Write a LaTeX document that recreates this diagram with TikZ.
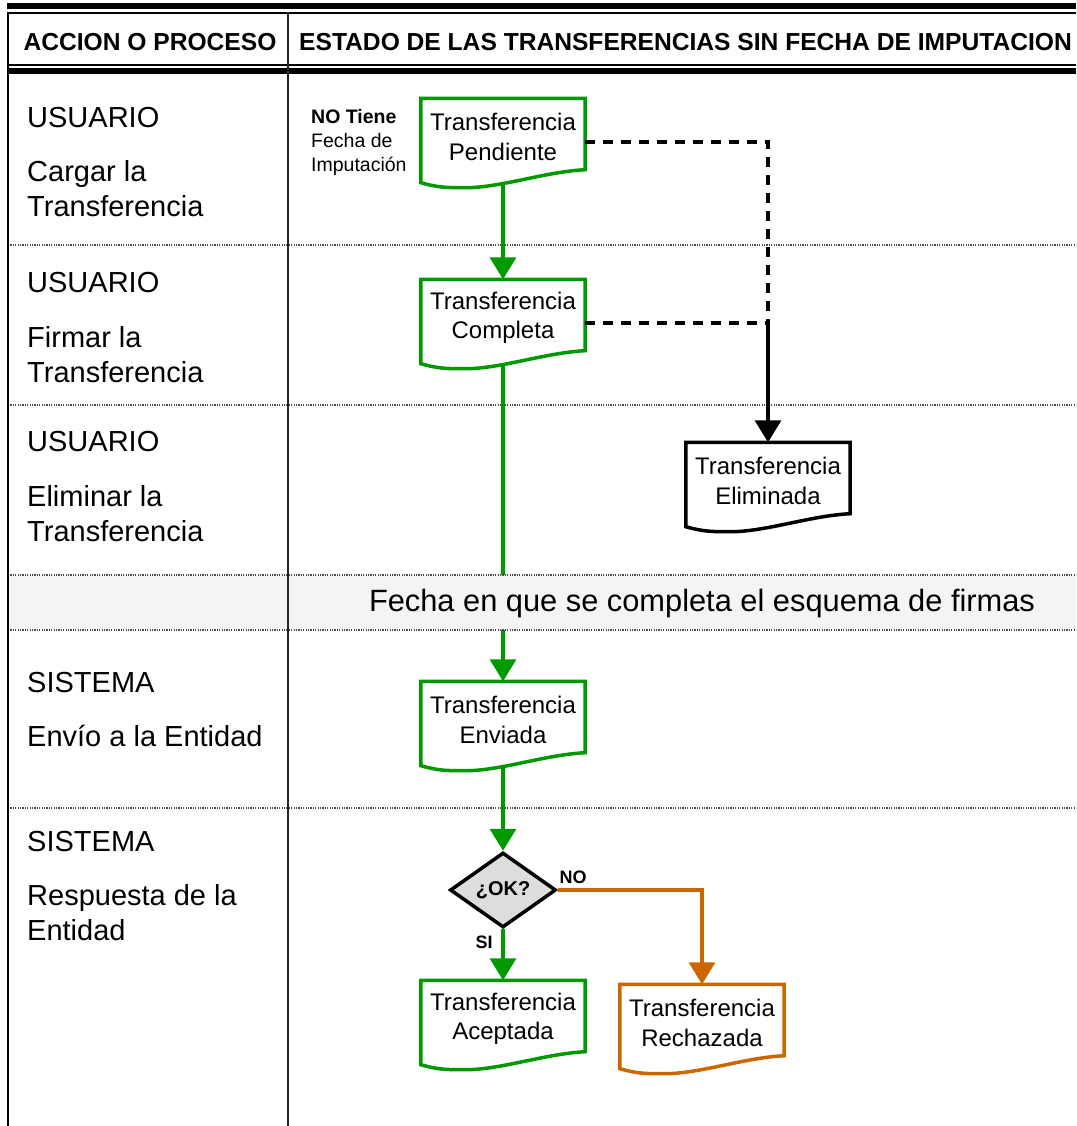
\documentclass[tikz,border=0pt]{standalone}
\usepackage{fontspec}
\setmainfont{Liberation Sans}
\usetikzlibrary{arrows.meta,calc,shapes.geometric}
\definecolor{fgreen}{RGB}{0,153,0}
\definecolor{forange}{RGB}{204,102,0}
\definecolor{bandgray}{RGB}{244,244,244}
\definecolor{diagray}{RGB}{221,221,221}
\newcommand\boxfont{\fontsize{24}{29.5}\selectfont}
\newcommand\leftfont{\fontsize{29}{35}\selectfont}
\newcommand\headfont{\fontsize{24.6}{28}\selectfont\bfseries}
\newcommand\smallfont{\fontsize{19.5}{24}\selectfont}
\newcommand\lblfont{\fontsize{18}{22}\selectfont\bfseries}
\newcommand\topstrut{\rule{0pt}{23pt}}
\newcommand\docborder[2]{%
  \draw[docline,#2] (#1.south east) -- (#1.north east) -- (#1.north west)
    -- ($(#1.south west)+(0,13)$)
    .. controls +(18,5) and +(-20,0) .. ($(#1.south west)+(45,18)$)
    .. controls +(35,0) and +(-40,2) .. (#1.south east)
    -- cycle;}
\tikzset{
  docline/.style={line width=3.5pt, line join=miter},
  docnode/.style={minimum width=164pt, minimum height=71pt, inner sep=0pt, align=center, font=\boxfont},
  tip/.style={-{Triangle[width=26pt,length=22pt]}},
  garrow/.style={draw=fgreen, line width=3.5pt, tip},
  oarrow/.style={draw=forange, line width=3.5pt, tip},
  barrow/.style={draw=black, line width=3.5pt, tip},
  dashline/.style={draw=black, line width=3.5pt, dash pattern=on 10pt off 8pt},
  leftlbl/.style={anchor=west, inner sep=0pt, align=left, font=\leftfont},
  dotline/.style={line width=1.2pt, black!70, dash pattern=on 1.2pt off 1.2pt},
  lbl/.style={inner sep=0pt, font=\lblfont},
}
\begin{document}
\begin{tikzpicture}[x=1pt,y=-1pt]
\useasboundingbox (0,0) rectangle (1076,1126);
% row separators
\foreach \yy in {245,405,808} \draw[dotline] (8,\yy) -- (1076,\yy);
% left column texts
\node[leftlbl] (u1) at (27,118) {USUARIO};
\node[leftlbl] (a1) at (27,188.5) {Cargar la\\Transferencia};
\node[leftlbl] (u2) at (27,283) {USUARIO};
\node[leftlbl] (a2) at (27,354.5) {Firmar la\\Transferencia};
\node[leftlbl] (u3) at (27,442) {USUARIO};
\node[leftlbl] (a3) at (27,514) {Eliminar la\\Transferencia};
\node[leftlbl] (s1) at (27,683) {SISTEMA};
\node[leftlbl] (a4) at (27,736) {Envío a la Entidad};
\node[leftlbl] (s2) at (27,842) {SISTEMA};
\node[leftlbl] (a5) at (27,912.5) {Respuesta de la\\Entidad};
% note
\node[anchor=west, inner sep=0pt, align=left, font=\smallfont] (note) at (311,142) {\textbf{NO Tiene}\\Fecha de\\Imputación};
% state nodes
\node[docnode] (pend) at (503,134) {\topstrut Transferencia\\Pendiente};
\node[docnode] (comp) at (503,315) {\topstrut Transferencia\\Completa};
\node[docnode] (elim) at (768,478) {\topstrut Transferencia\\Eliminada};
\node[docnode] (env) at (503,717) {\topstrut Transferencia\\Enviada};
\node[docnode] (acep) at (503,1016) {\topstrut Transferencia\\Aceptada};
\node[docnode] (rech) at (702,1020) {\topstrut Transferencia\\Rechazada};
\docborder{pend}{fgreen}
\docborder{comp}{fgreen}
\docborder{elim}{black}
\docborder{env}{fgreen}
\docborder{acep}{fgreen}
\docborder{rech}{forange}
\node[diamond, draw=black, line width=3.5pt, fill=diagray, minimum width=106pt, minimum height=75pt, inner sep=0pt, font=\fontsize{20}{24}\selectfont\bfseries] (dia) at (503,890) {¿OK?};
% connectors
\draw[garrow] ($(pend.south)+(0,14)$) -- (comp.north);
\draw[garrow] ($(comp.south)+(0,14)$) -- (env.north);
\draw[garrow] ($(env.south)+(0,14)$) -- (dia.north);
\draw[garrow] (dia.south) -- (acep.north);
\draw[oarrow] (dia.east) -| (rech.north);
\node[lbl] (no) at (573,877) {NO};
\node[lbl] (si) at (484,942) {SI};
\coordinate (pE) at ($(pend.east)+(0,8)$);
\coordinate (cE) at ($(comp.east)+(0,8)$);
\coordinate (j) at (elim.north |- cE);
\draw[dashline] (pE) -| (j);
\draw[dashline] (cE) -- (j);
\draw[barrow] (j) -- (elim.north);
% band
\fill[bandgray] (8,575) rectangle (1076,630);
\draw[dotline] (8,575) -- (1076,575);
\draw[dotline] (8,630) -- (1076,630);
\node[inner sep=0pt, font=\fontsize{30.8}{34}\selectfont] (band) at (702,604) {Fecha en que se completa el esquema de firmas};
% header
\draw[line width=6pt] (7,6.5) -- (1076,6.5);
\draw[line width=2pt] (7,13) -- (1076,13);
\draw[line width=2pt] (7,65) -- (1076,65);
\draw[line width=6.5pt] (7,71) -- (1076,71);
\node[inner sep=0pt, font=\headfont] (h1) at (150,42) {ACCION O PROCESO};
\node[anchor=west, inner sep=0pt, font=\headfont] (h2) at (299,42) {ESTADO DE LAS TRANSFERENCIAS SIN FECHA DE IMPUTACION};
% vertical lines
\draw[line width=2.5pt] (8,12) -- (8,1126);
\draw[line width=2pt, black!85] (288,12) -- (288,1126);
\end{tikzpicture}
\end{document}
